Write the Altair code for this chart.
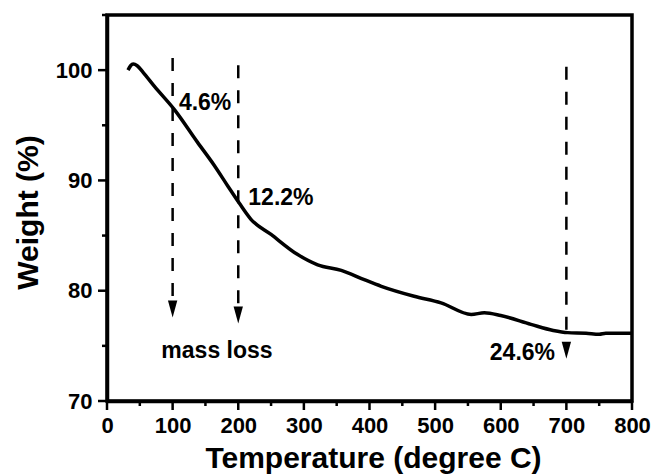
import altair as alt
import pandas as pd

# TGA curve: temperature (degree C) and weight (%)
temp = [32, 36, 40, 46, 55, 72, 103, 138, 163, 184, 202, 219, 250, 290, 321,
        357, 392, 418, 468, 509, 555, 575, 600, 646, 680, 702, 730, 750, 760, 800]
weight = [100.0, 100.4, 100.55, 100.4, 99.8, 98.55, 96.4, 93.45, 91.4, 89.5,
          87.9, 86.5, 85.1, 83.3, 82.35, 81.85, 81.0, 80.4, 79.5, 78.9, 77.85, 78.0, 77.75,
          76.95, 76.4, 76.2, 76.15, 76.05, 76.15, 76.15]

# dashed guide lines
vline_x = [100, 200, 700]
vline_top = [101.1, 100.45, 100.3]
vline_bottom = [79.3, 78.6, 76.3]

# arrow heads
arrow_x = [100, 200, 700]
arrow_y = [78.35, 77.8, 74.6]

# annotations
note_text = ["4.6%", "12.2%", "mass loss", "24.6%"]
note_x = [149.5, 265, 167.6, 633]
note_y = [96.38, 87.78, 73.94, 73.76]

# axis ticks
x_major = list(range(0, 801, 100))
x_minor = list(range(50, 801, 100))
y_major = list(range(70, 101, 10))
y_minor = list(range(75, 106, 10))

FONT = "Liberation Sans"

curve = pd.DataFrame({"T": temp, "W": weight})
vlines = pd.DataFrame({"T": vline_x, "top": vline_top, "bottom": vline_bottom})
arrows = pd.DataFrame({"T": arrow_x, "W": arrow_y})
notes = pd.DataFrame({"T": note_x, "W": note_y, "text": note_text})
xmaj = pd.DataFrame({"v": x_major})
xmin = pd.DataFrame({"v": x_minor})
ymaj = pd.DataFrame({"v": y_major})
ymin = pd.DataFrame({"v": y_minor})

xscale = alt.Scale(domain=[0, 800], nice=False, zero=False)
yscale = alt.Scale(domain=[70, 105], nice=False, zero=False)

label_style = dict(labelFont=FONT, labelFontSize=22, labelFontWeight="bold", labelColor="black")
title_style = dict(titleFont=FONT, titleFontSize=30, titleFontWeight="bold", titleColor="black")

xaxis = alt.Axis(
    title="Temperature (degree C)", values=x_major, orient="bottom",
    tickSize=9, tickOpacity=0,
    domainWidth=3.5, domainColor="black",
    grid=False, labelFlush=False, labelOverlap=False, labelPadding=5,
    titleY=66, titleX=266, titleBaseline="alphabetic",
    **label_style, **title_style,
)
yaxis = alt.Axis(
    title="Weight (%)", values=y_major, orient="left",
    tickSize=9, tickOpacity=0,
    domainWidth=3.5, domainColor="black",
    grid=False, labelOverlap=False, labelPadding=6,
    titleX=-70, titleY=197, titleBaseline="alphabetic",
    **label_style, **title_style,
)

line = alt.Chart(curve).mark_line(color="black", strokeWidth=3.5, interpolate="monotone").encode(
    x=alt.X("T:Q", scale=xscale, axis=xaxis),
    y=alt.Y("W:Q", scale=yscale, axis=yaxis),
    order="T:Q",
)

rules = alt.Chart(vlines).mark_rule(color="black", strokeWidth=2.5, strokeDash=[13, 12]).encode(
    x=alt.X("T:Q", scale=xscale),
    y=alt.Y("top:Q", scale=yscale),
    y2="bottom:Q",
)

heads = alt.Chart(arrows).mark_point(
    shape="M-0.55,-1L0.55,-1L0,1Z", size=289, filled=True, color="black", opacity=1
).encode(
    x=alt.X("T:Q", scale=xscale),
    y=alt.Y("W:Q", scale=yscale),
)

texts = alt.Chart(notes).mark_text(
    font=FONT, fontSize=23, fontWeight="bold", color="black", align="center", baseline="alphabetic"
).encode(
    x=alt.X("T:Q", scale=xscale),
    y=alt.Y("W:Q", scale=yscale),
    text="text:N",
)

# outward tick marks (major and minor), placed through the shared scales
tick_style = dict(color="black", strokeWidth=2.5)
xt_major = alt.Chart(xmaj).mark_rule(**tick_style).encode(
    x=alt.X("v:Q", scale=xscale), y=alt.value(386), y2=alt.value(395))
xt_minor = alt.Chart(xmin).mark_rule(**tick_style).encode(
    x=alt.X("v:Q", scale=xscale), y=alt.value(386), y2=alt.value(391))
yt_major = alt.Chart(ymaj).mark_rule(**tick_style).encode(
    y=alt.Y("v:Q", scale=yscale), x=alt.value(0), x2=alt.value(-9))
yt_minor = alt.Chart(ymin).mark_rule(**tick_style).encode(
    y=alt.Y("v:Q", scale=yscale), x=alt.value(0), x2=alt.value(-5))

chart = alt.layer(line, rules, heads, texts, xt_major, xt_minor, yt_major, yt_minor).properties(
    width=525, height=386,
    autosize=alt.AutoSizeParams(type="none"),
    padding={"left": 107, "top": 15, "right": 20, "bottom": 73},
    background="white",
).configure_view(
    stroke="black", strokeWidth=3.5
)

chart.save("out.html", embed_options={"renderer": "svg", "actions": False})
